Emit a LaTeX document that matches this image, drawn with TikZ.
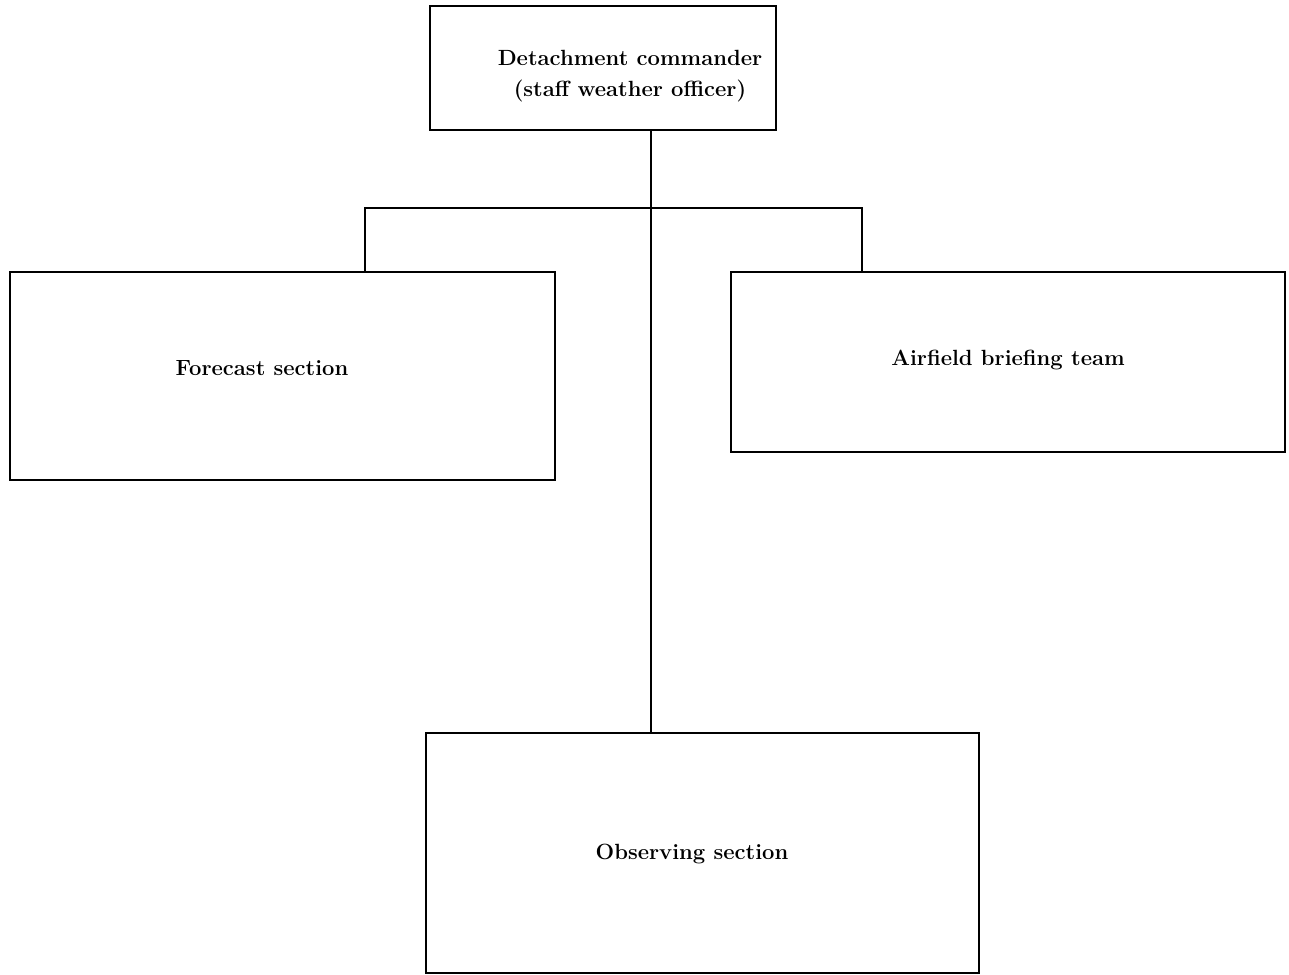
\documentclass[tikz,border=0pt]{standalone}
\begin{document}
\begin{tikzpicture}[x=1pt,y=-1pt,
  box/.style={draw,line width=2.8pt,rectangle,inner sep=0pt},
  lbl/.style={font=\fontsize{22}{31}\selectfont\bfseries,align=center,inner sep=0pt},
  link/.style={line width=2.8pt}]
\useasboundingbox (0,0) rectangle (1289,974);
\node[box,minimum width=346pt,minimum height=124pt] (top) at (603,68) {};
\node[lbl] (toptxt) at (630,76) {Detachment commander\\(staff weather officer)};
\node[box,minimum width=545pt,minimum height=208pt] (fore) at (282.5,376) {};
\node[lbl] (foretxt) at (262,368) {Forecast section};
\node[box,minimum width=554pt,minimum height=180pt] (air) at (1008,362) {};
\node[lbl] (airtxt) at (1008,360) {Airfield briefing team};
\node[box,minimum width=553pt,minimum height=240pt] (obs) at (702.5,853) {};
\node[lbl] (obstxt) at (692,854) {Observing section};
\coordinate (trunk) at (651,208);
\coordinate (lj) at (365,208);
\coordinate (rj) at (862,208);
\draw[link] (top.south -| trunk) -- (obs.north -| trunk);
\draw[link] (fore.north -| lj) -- (lj) -- (rj) -- (air.north -| rj);
\end{tikzpicture}
\end{document}
